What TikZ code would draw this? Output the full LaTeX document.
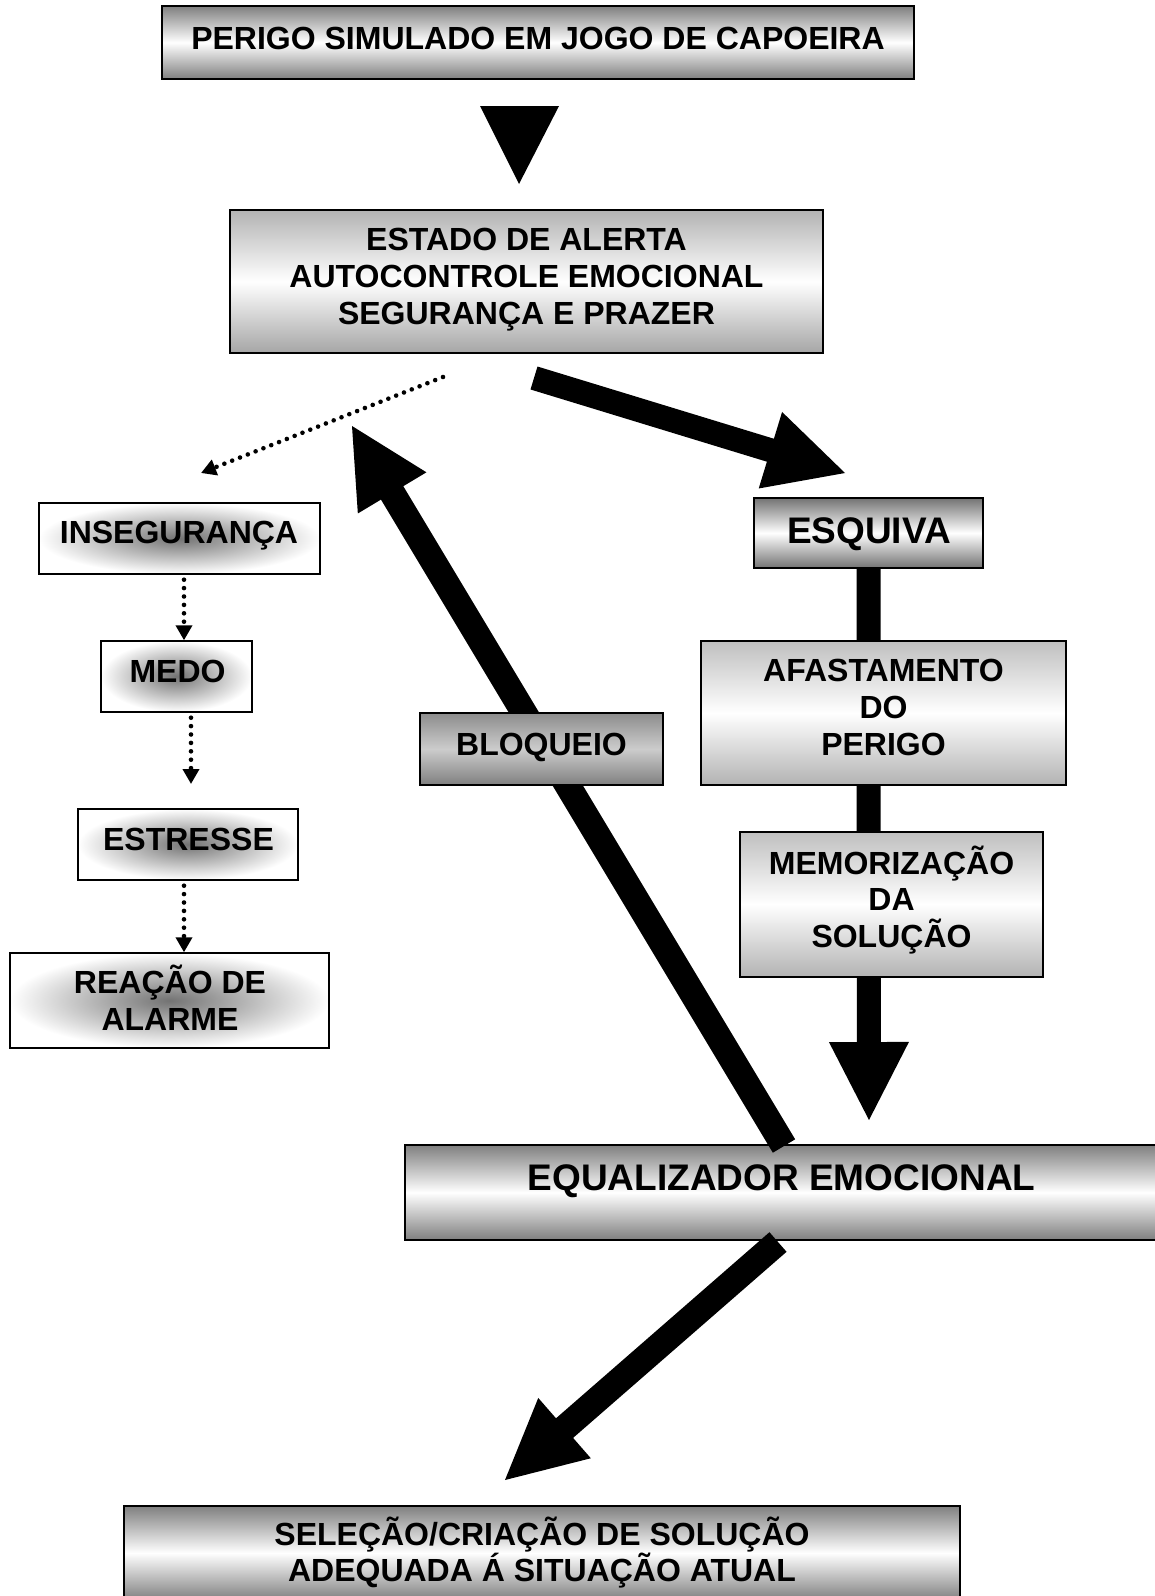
\documentclass[tikz,border=0pt]{standalone}
\usepackage{fontspec}
\setmainfont{Liberation Sans}
\usetikzlibrary{arrows.meta,calc}
\pgfdeclarelayer{back}
\pgfsetlayers{back,main}
\newcommand\blockarrow[5]{%
  \coordinate (#1-#2-b) at ($(#2)!#5!(#1)$);
  \fill[black] ($(#1)!#3!90:(#2)$) -- ($(#1-#2-b)!#3!90:(#2)$) -- ($(#1-#2-b)!#4!90:(#2)$) -- (#2)
    -- ($(#1-#2-b)!#4!-90:(#2)$) -- ($(#1-#2-b)!#3!-90:(#2)$) -- ($(#1)!#3!-90:(#2)$) -- cycle;}
\begin{document}
\begin{tikzpicture}[x=1pt,y=-1pt,
  box/.style={draw=black, line width=1.4pt, inner sep=0pt, rectangle},
  vgrad/.style={top color=black!#1, bottom color=black!#1, middle color=white},
  rgrad/.style={shading=radial, inner color=black!55, outer color=white},
  txt/.style={font=\bfseries\fontsize{32}{36.6}\selectfont, align=center, inner sep=0pt, text height=22.9pt, text depth=0pt},
  txttwo/.style={txt, text height=59.5pt},
  txtthree/.style={txt, text height=96.1pt},
  bigtxt/.style={font=\bfseries\fontsize{37}{42}\selectfont, align=center, inner sep=0pt, text height=26.5pt, text depth=0pt},
  dotarrow/.style={line width=4.6pt, dash pattern=on 0pt off 8.4pt, line cap=round, -{Triangle[width=16pt,length=15pt]}},
]
\useasboundingbox (0,0) rectangle (1155,1596);
\begin{pgfonlayer}{back}
\fill[white] (0,0) rectangle (1155,1596);
\end{pgfonlayer}

% boxes
\node[box, vgrad=50, minimum width=752pt, minimum height=73pt] (perigo) at (538,42.5) {};
\node[txt] (tperigo) at (538,38) {PERIGO SIMULADO EM JOGO DE CAPOEIRA};

\node[box, top color=black!30, bottom color=black!35, middle color=white, minimum width=593pt, minimum height=143pt] (estado) at (526.5,281.5) {};
\node[txtthree] (testado) at (526.5,276) {ESTADO DE ALERTA\\AUTOCONTROLE EMOCIONAL\\SEGURANÇA E PRAZER};

\node[box, rgrad, minimum width=281pt, minimum height=71pt] (inseg) at (179.5,538.5) {};
\node[txt] (tinseg) at (179,532) {INSEGURANÇA};

\node[box, rgrad, minimum width=151pt, minimum height=71pt] (medo) at (176.5,676.5) {};
\node[txt] (tmedo) at (177.5,671.5) {MEDO};

\node[box, rgrad, minimum width=220pt, minimum height=71pt] (estresse) at (188,844.5) {};
\node[txt] (testresse) at (188.5,839.5) {ESTRESSE};

\node[box, rgrad, minimum width=319pt, minimum height=95pt] (reacao) at (169.5,1000.5) {};
\node[txttwo] (treacao) at (170,1000.5) {REAÇÃO DE\\ALARME};

\node[box, top color=black!45, bottom color=black!50, middle color=black!20, minimum width=243pt, minimum height=72pt] (bloqueio) at (541.5,749) {};
\node[txt] (tbloqueio) at (541.5,744) {BLOQUEIO};

\node[box, vgrad=55, minimum width=229pt, minimum height=70pt] (esquiva) at (868.5,533) {};
\node[bigtxt] (tesquiva) at (869,530) {ESQUIVA};

\node[box, top color=black!25, bottom color=black!30, middle color=white, minimum width=365pt, minimum height=144pt] (afast) at (883.5,713) {};
\node[txtthree] (tafast) at (883.5,707) {AFASTAMENTO\\DO\\PERIGO};

\node[box, top color=black!25, bottom color=black!30, middle color=white, minimum width=303pt, minimum height=145pt] (memor) at (891.5,904.5) {};
\node[txtthree] (tmemor) at (891.5,899.5) {MEMORIZAÇÃO\\DA\\SOLUÇÃO};

\node[box, vgrad=50, minimum width=836pt, minimum height=94pt] (final) at (542,1553) {};
\node[txttwo] (tfinal) at (542,1552) {SELEÇÃO/CRIAÇÃO DE SOLUÇÃO\\ADEQUADA Á SITUAÇÃO ATUAL};

% equalizer box and block arrows on the back layer
\begin{pgfonlayer}{back}
\node[box, vgrad=50, minimum width=760pt, minimum height=95pt] (equal) at (785,1192.5) {};
\coordinate (eA) at (534,378);  \coordinate (tA) at (845,473);
\coordinate (eB) at (784,1146); \coordinate (tB) at (352,426);
\coordinate (eC) at (778,1242); \coordinate (tC) at (505,1480);
\coordinate (eD) at (esquiva.south); \coordinate (tD) at (869,1120);
\blockarrow{eA}{tA}{12pt}{40pt}{78pt}
\blockarrow{eB}{tB}{13pt}{40pt}{78pt}
\blockarrow{eC}{tC}{13pt}{40pt}{79pt}
\blockarrow{eD}{tD}{12pt}{40pt}{78pt}
\end{pgfonlayer}

\node[bigtxt] (tequal) at (781.5,1177) {EQUALIZADOR EMOCIONAL};

% top triangle
\coordinate (tri1) at (480,106); \coordinate (tri2) at (559,106); \coordinate (tri3) at (519,184);
\fill[black] (tri1) -- (tri2) -- (tri3) -- cycle;

% dotted arrows
\coordinate (dA) at (443,377); \coordinate (dAt) at (201,473);
\draw[dotarrow] (dA) -- (dAt);
\draw[dotarrow] ($(inseg.south)+(4.5,5)$) -- ($(medo.north)+(7.5,0)$);
\coordinate (d3t) at (191,784);
\draw[dotarrow] ($(medo.south)+(14.5,5)$) -- (d3t);
\draw[dotarrow] ($(estresse.south)+(-4,5)$) -- ($(reacao.north)+(14.5,0)$);
\end{tikzpicture}
\end{document}
